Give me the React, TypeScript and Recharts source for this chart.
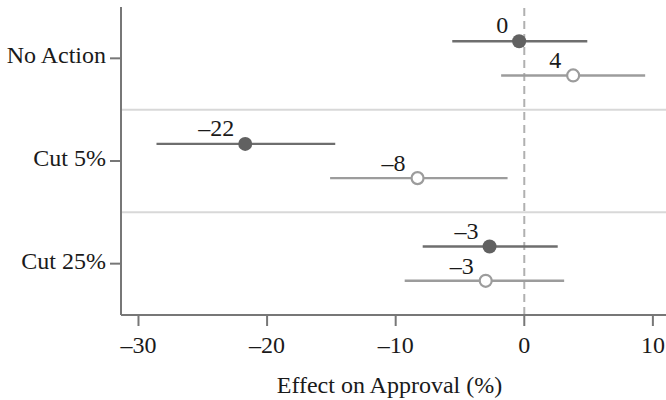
import React from 'react';
import { ScatterChart, Scatter, XAxis, YAxis, ErrorBar, ReferenceLine } from 'recharts';

const categories = ['No Action', 'Cut 5%', 'Cut 25%'];
const filledEstimate = [-0.4, -21.7, -2.7];
const filledLower = [-5.6, -28.6, -7.9];
const filledUpper = [4.9, -14.7, 2.6];
const hollowEstimate = [3.8, -8.3, -3.0];
const hollowLower = [-1.8, -15.1, -9.3];
const hollowUpper = [9.4, -1.3, 3.1];
const xTicks = [-30, -20, -10, 0, 10];
const xDomain: [number, number] = [-31.36, 11.02];
const yTicks = [0, 1, 2];
const separators = [0.5, 1.5];
const DODGE = 1 / 6;

const FONT = '"Liberation Serif", "Times New Roman", serif';
const TEXT = '#1a1a1a';
const FILLED = '#616161';
const FILLED_LINE = '#6e6e6e';
const HOLLOW = '#9c9c9c';
const FS = 24;

const fmt = (v: number) => {
  const r = Math.round(v);
  if (r === 0) return '0';
  return r < 0 ? '\u2013' + Math.abs(r) : String(r);
};

const build = (est: number[], lo: number[], hi: number[], offset: number) =>
  categories.map((c, i) => ({
    category: c,
    x: est[i],
    y: i + offset,
    err: [est[i] - lo[i], hi[i] - est[i]],
    label: fmt(est[i]),
  }));

const filledData = build(filledEstimate, filledLower, filledUpper, -DODGE);
const hollowData = build(hollowEstimate, hollowLower, hollowUpper, DODGE);

const fmtTick = (v: number) => (v < 0 ? '\u2013' + Math.abs(v) : String(v));

const XTick = (props: any) => {
  const { x, y, payload } = props;
  return (
    <text x={x} y={y} dy={25} textAnchor="middle" fontFamily={FONT} fontSize={FS} fill={TEXT}>
      {fmtTick(payload.value)}
    </text>
  );
};

const YTick = (props: any) => {
  const { x, y, payload } = props;
  return (
    <text x={x} y={y} dy={5} textAnchor="end" fontFamily={FONT} fontSize={FS} fill={TEXT}>
      {categories[payload.value]}
    </text>
  );
};

const Hidden = () => <g />;

const FilledPoint = (props: any) => {
  const { cx, cy, payload } = props;
  return (
    <g>
      <circle cx={cx} cy={cy} r={7} fill={FILLED} />
      <text x={cx - 11} y={cy - 8} textAnchor="end" fontFamily={FONT} fontSize={FS} fill={TEXT}>
        {payload.label}
      </text>
    </g>
  );
};

const HollowPoint = (props: any) => {
  const { cx, cy, payload } = props;
  return (
    <g>
      <circle cx={cx} cy={cy} r={6} fill="#ffffff" stroke={HOLLOW} strokeWidth={2.2} />
      <text x={cx - 12} y={cy - 7} textAnchor="end" fontFamily={FONT} fontSize={FS} fill={TEXT}>
        {payload.label}
      </text>
    </g>
  );
};

export default function App() {
  return (
    <div style={{ position: 'absolute', left: 0, top: 0, width: 666, height: 400, background: '#fff' }}>
      <ScatterChart width={666} height={400} margin={{ top: 7, right: 0, bottom: 0, left: 0 }}>
        <XAxis
          type="number"
          dataKey="x"
          domain={xDomain}
          allowDataOverflow
          ticks={xTicks}
          height={85}
          tickSize={11}
          tickMargin={2}
          tick={<XTick />}
          stroke="#777777"
          strokeWidth={2}
          label={{
            value: 'Effect on Approval (%)',
            position: 'insideBottom',
            offset: 7,
            dx: -4,
            fontFamily: FONT,
            fontSize: FS,
            fill: TEXT,
          }}
        />
        <YAxis
          type="number"
          dataKey="y"
          domain={[-0.5, 2.5]}
          reversed
          allowDataOverflow
          ticks={yTicks}
          width={121}
          tickSize={11}
          tickMargin={4}
          tick={<YTick />}
          stroke="#777777"
          strokeWidth={2}
        />
        {separators.map((s) => (
          <ReferenceLine key={s} y={s} stroke="#d8d8d8" strokeWidth={2} />
        ))}
        <ReferenceLine x={0} stroke="#b0b0b0" strokeWidth={2} strokeDasharray="8 5" />
        <Scatter data={filledData} shape={<Hidden />} isAnimationActive={false}>
          <ErrorBar dataKey="err" direction="x" width={0} stroke={FILLED_LINE} strokeWidth={2.4} />
        </Scatter>
        <Scatter data={hollowData} shape={<Hidden />} isAnimationActive={false}>
          <ErrorBar dataKey="err" direction="x" width={0} stroke={HOLLOW} strokeWidth={2.4} />
        </Scatter>
        <Scatter data={filledData} shape={<FilledPoint />} isAnimationActive={false} />
        <Scatter data={hollowData} shape={<HollowPoint />} isAnimationActive={false} />
      </ScatterChart>
    </div>
  );
}
